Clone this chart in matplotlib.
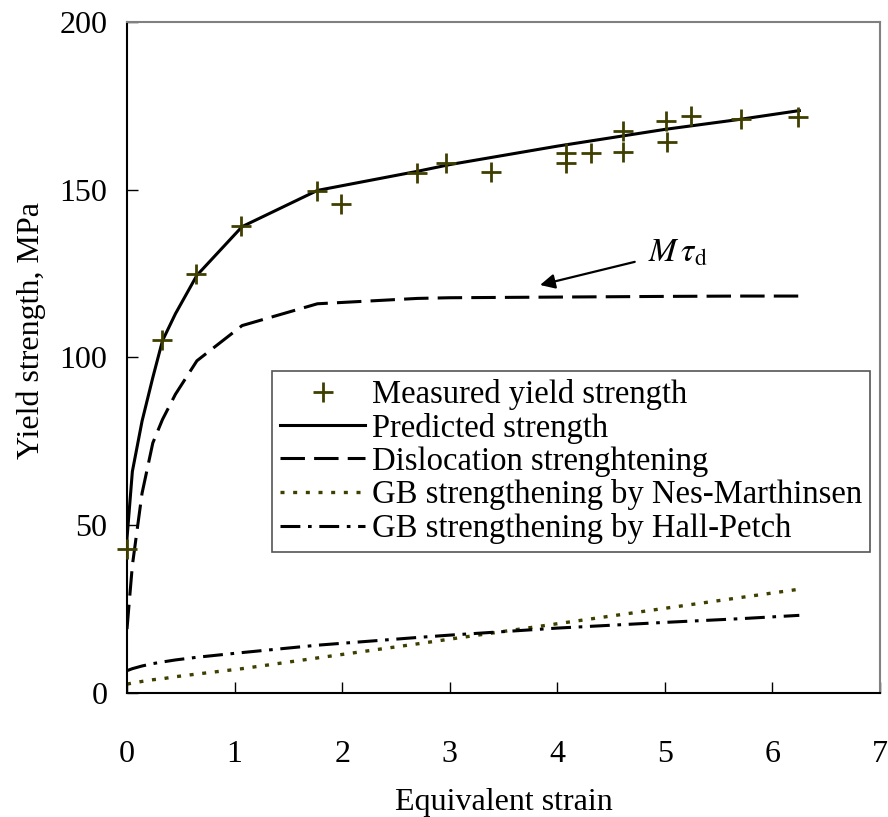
import matplotlib
matplotlib.use("Agg")
import matplotlib.pyplot as plt

plt.rcParams['font.family'] = ['Liberation Serif', 'DejaVu Serif']
plt.rcParams['mathtext.fontset'] = 'stix'

# Measured yield strength
meas_x = [0.0, 0.33, 0.64, 1.06, 1.77, 1.99, 2.70, 2.97, 3.38, 4.08, 4.08,
          4.31, 4.61, 4.61, 5.01, 5.02, 5.24, 5.71, 6.24]
meas_y = [43.0, 105.3, 124.9, 139.2, 149.6, 145.7, 155.0, 158.0, 155.3, 158.0, 161.0,
          161.0, 161.3, 167.5, 170.5, 164.2, 172.0, 171.1, 171.7]

# Model curves
model_x = [0.0, 0.05, 0.14, 0.24, 0.33, 0.45, 0.65, 1.07, 1.77, 2.70, 3.0, 4.0, 5.0, 5.7, 6.25]
predicted = [46.0, 66.0, 81.0, 94.0, 105.0, 113.0, 124.5, 139.0, 149.8, 155.5, 157.5, 163.0, 168.0, 171.0, 173.6]
dislocation = [19.0, 38.0, 59.5, 74.5, 81.5, 89.0, 99.0, 109.5, 116.0, 117.6, 117.8, 118.0, 118.2, 118.3, 118.3]
gb_nes = [2.6, 2.9, 3.4, 3.9, 4.2, 4.8, 5.6, 7.2, 10.4, 14.6, 16.0, 20.6, 25.2, 28.4, 30.9]
gb_hp = [6.6, 7.2, 8.0, 8.7, 9.2, 9.8, 10.6, 12.0, 14.2, 16.5, 17.2, 19.3, 21.0, 22.1, 23.1]

labels = ['Measured yield strength', 'Predicted strength', 'Dislocation strenghtening',
          'GB strengthening by Nes-Marthinsen', 'GB strengthening by Hall-Petch']

olive = '#3f3f00'
ann_head = (3.84, 121.6)
ann_tail = (4.72, 128.5)
ann_text = (4.84, 131.0)

fig = plt.figure(figsize=(8.88, 8.17), dpi=100)
ax = fig.add_axes([0.143, 0.152, 0.848, 0.821])

ax.plot(meas_x, meas_y, linestyle='none', marker='+', markersize=14,
        markeredgewidth=2.0, color=olive, label=labels[0], zorder=5, clip_on=False)
ax.plot(model_x, predicted, color='black', lw=2.2, label=labels[1])
ax.plot(model_x, dislocation, color='black', lw=2.2, dashes=(8, 3), label=labels[2])
ax.plot(model_x, gb_nes, color=olive, lw=2.4, dashes=(1.2, 2.6), label=labels[3])
ax.plot(model_x, gb_hp, color='black', lw=2.2, dashes=(6.5, 2.5, 1.2, 2.5), label=labels[4])

ax.annotate('', xy=ann_head, xytext=ann_tail,
            arrowprops=dict(arrowstyle='-|>', color='black', lw=1.6,
                            mutation_scale=22, shrinkA=0, shrinkB=0))
ax.text(ann_text[0], ann_text[1], r'$M\,\tau_{\mathrm{d}}$', fontsize=24,
        ha='left', va='center')

ax.set_xlim(0, 7)
ax.set_ylim(0, 200)
ax.set_xticks(range(0, 8))
ax.set_yticks(range(0, 201, 50))
ax.tick_params(axis='both', direction='in', length=8, width=1.0, labelsize=23,
               top=False, right=False)
ax.tick_params(axis='x', pad=34)
ax.tick_params(axis='y', pad=14)

for s in ['left', 'bottom']:
    ax.spines[s].set_linewidth(1.5)
    ax.spines[s].set_color('black')
for s in ['top', 'right']:
    ax.spines[s].set_linewidth(1.5)
    ax.spines[s].set_color('#808080')

ax.set_xlabel('Equivalent strain', fontsize=23, labelpad=14)
ax.set_ylabel('Yield strength, MPa', fontsize=23)
ax.yaxis.set_label_coords(-0.108, 0.54)

leg = ax.legend(loc='upper left', bbox_to_anchor=(0.193, 0.48), fontsize=23.5,
                frameon=True, fancybox=False, edgecolor='#555555', framealpha=1,
                handlelength=2.6, handletextpad=0.2, labelspacing=0.08,
                borderpad=0.25, borderaxespad=0)
leg.get_frame().set_linewidth(1.2)

fig.savefig('out.png', dpi=100)
